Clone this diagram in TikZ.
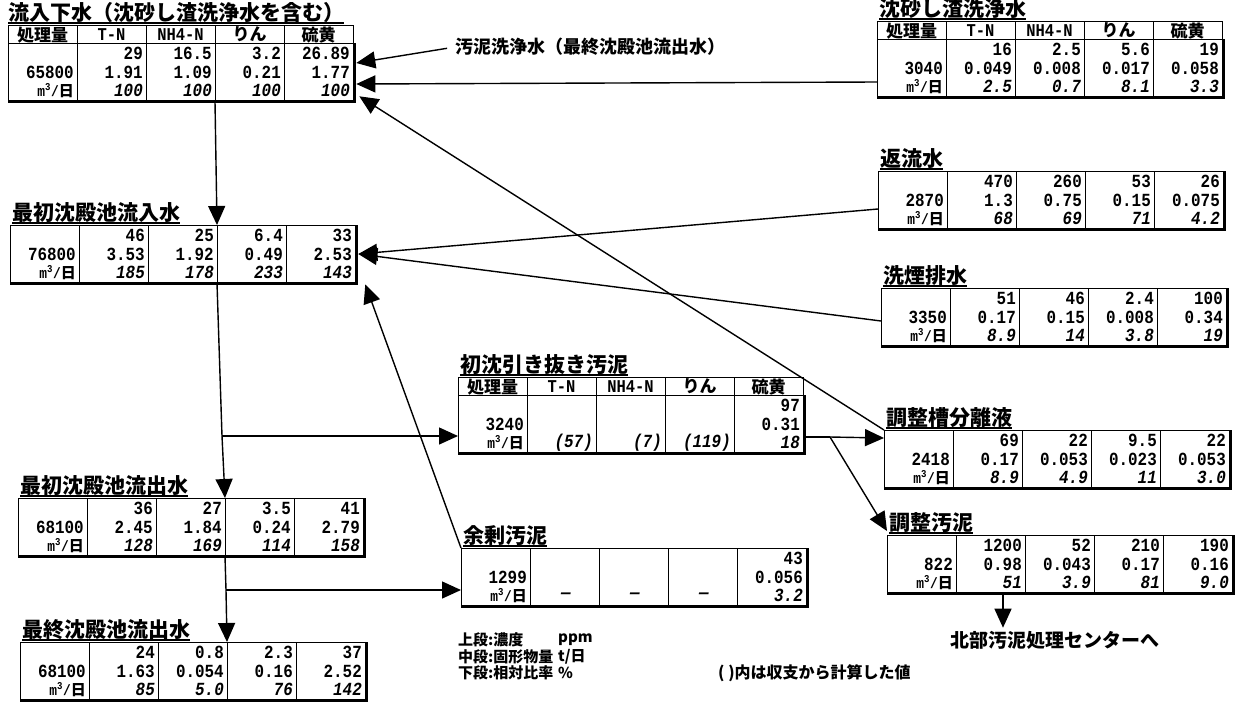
\documentclass[tikz,border=0pt]{standalone}
\usepackage{fontspec}
\newfontfamily\jpfont{Noto Sans CJK JP}
\newfontfamily\numfont{Liberation Mono}[FakeStretch=0.86]
\usetikzlibrary{arrows.meta,calc}

\newcommand{\perday}{{\numfont\bfseries\fontsize{15}{15}\selectfont m\textsuperscript{3}/{\jpfont 日}}}
\newcommand{\nodata}{\makebox[60pt][c]{—}}

\tikzset{
  val/.style={anchor=east, inner sep=0pt, font=\numfont\bfseries\fontsize{18.5}{18.5}\selectfont},
  pct/.style={val, font=\numfont\bfseries\itshape\fontsize{18.5}{18.5}\selectfont},
  hd/.style={inner sep=0pt, font=\jpfont\bfseries\fontsize{17}{17}\selectfont},
  hdnum/.style={inner sep=0pt, font=\numfont\bfseries\fontsize{18}{18}\selectfont},
  ttl/.style={anchor=south west, inner sep=0pt, font=\jpfont\bfseries\fontsize{21}{21}\selectfont},
  note/.style={anchor=west, inner sep=0pt, font=\jpfont\bfseries\fontsize{15}{15}\selectfont},
  frame/.style={draw, line width=1.3pt, minimum width=345pt, inner sep=0pt, anchor=north west},
  flow/.style={->, line width=1.4pt},
}

% title with underline
\newcommand{\tabletitle}[4]{%
  \node[ttl] (#1) at (#2,#3) {#4};
  \draw[line width=1.2pt] (#1.south west) -- (#1.south east);
}

% header row: name, left, top
\newcommand{\headrow}[3]{%
  \node[frame, minimum height=18pt] (#1) at (#2,#3) {};
  \foreach \k in {1,...,4}
    \draw[line width=1pt] ($(#1.north west)+(\k*69,0)$) -- ($(#1.south west)+(\k*69,0)$);
  \foreach \h/\s [count=\k] in {処理量/hd, T-N/hdnum, NH4-N/hdnum, りん/hd, 硫黄/hd}
    \node[\s] (#1-\k) at ($(#1.west)+(\k*69-34.5,0)$) {\h};
}

% data rows: name, left, top, upper, middle, lower
\newcommand{\datatable}[6]{%
  \node[frame, minimum height=57pt] (#1) at (#2,#3) {};
  \draw[line width=2.4pt] (#1.south west) -- (#1.south east) -- (#1.north east);
  \foreach \k in {1,...,4}
    \draw[line width=1pt] ($(#1.north west)+(\k*69,0)$) -- ($(#1.south west)+(\k*69,0)$);
  \foreach \v [count=\k] in {#4}
    {\ifx\v\empty\else\node[val] (#1-a\k) at ($(#1.north west)+(\k*69-3,10.5)$) {\v};\fi}
  \foreach \v [count=\k] in {#5}
    {\ifx\v\empty\else\node[val] (#1-b\k) at ($(#1.north west)+(\k*69-3,29)$) {\v};\fi}
  \node[val] (#1-c1) at ($(#1.north west)+(66,47.5)$) {\perday};
  \foreach \v [count=\k from 2] in {#6}
    \node[pct] (#1-c\k) at ($(#1.north west)+(\k*69-3,47.5)$) {\v};
}

\begin{document}
\begin{tikzpicture}[x=1pt, y=-1pt, >={Triangle[length=19pt,width=17pt]}]
\useasboundingbox (0,0) rectangle (1235,710);

% left column
\tabletitle{inflow-t}{8}{23}{流入下水（沈砂し渣洗浄水を含む）}
\headrow{inflow-h}{8}{25}
\datatable{inflow}{8}{43}{{},29,16.5,3.2,26.89}{65800,1.91,1.09,0.21,1.77}{100,100,100,100}

\tabletitle{pstin-t}{12}{223}{最初沈殿池流入水}
\datatable{pstin}{10}{225}{{},46,25,6.4,33}{76800,3.53,1.92,0.49,2.53}{185,178,233,143}

\tabletitle{pstout-t}{20}{496}{最初沈殿池流出水}
\datatable{pstout}{18}{498}{{},36,27,3.5,41}{68100,2.45,1.84,0.24,2.79}{128,169,114,158}

\tabletitle{fstout-t}{22}{640}{最終沈殿池流出水}
\datatable{fstout}{20}{642}{{},24,0.8,2.3,37}{68100,1.63,0.054,0.16,2.52}{85,5.0,76,142}

% middle column
\tabletitle{rawsl-t}{460}{375}{初沈引き抜き汚泥}
\headrow{rawsl-h}{458}{377}
\datatable{rawsl}{458}{395}{{},{},{},{},97}{3240,{},{},{},0.31}{(57),(7),(119),18}

\tabletitle{excess-t}{463}{546}{余剰汚泥}
\datatable{excess}{461}{548}{{},{},{},{},43}{1299,{},{},{},0.056}{\nodata,\nodata,\nodata,3.2}

% right column
\tabletitle{grit-t}{879}{19}{沈砂し渣洗浄水}
\headrow{grit-h}{877}{21}
\datatable{grit}{877}{39}{{},16,2.5,5.6,19}{3040,0.049,0.008,0.017,0.058}{2.5,0.7,8.1,3.3}

\tabletitle{ret-t}{880}{169}{返流水}
\datatable{ret}{878}{171}{{},470,260,53,26}{2870,1.3,0.75,0.15,0.075}{68,69,71,4.2}

\tabletitle{scrub-t}{883}{286}{洗煙排水}
\datatable{scrub}{881}{288}{{},51,46,2.4,100}{3350,0.17,0.15,0.008,0.34}{8.9,14,3.8,19}

\tabletitle{sep-t}{886}{428}{調整槽分離液}
\datatable{sep}{884}{430}{{},69,22,9.5,22}{2418,0.17,0.053,0.023,0.053}{8.9,4.9,11,3.0}

\tabletitle{adj-t}{889}{533}{調整汚泥}
\datatable{adj}{887}{535}{{},1200,52,210,190}{822,0.98,0.043,0.17,0.16}{51,3.9,81,9.0}

% texts
\node[note, font=\jpfont\bfseries\fontsize{18}{18}\selectfont] (washnote) at (455,47) {汚泥洗浄水（最終沈殿池流出水）};
\node[note, font=\jpfont\bfseries\fontsize{19}{19}\selectfont] (north) at (950,640) {北部汚泥処理センターへ};
\node[note] (lg1) at (458,640) {上段:濃度};
\node[note] (lg2) at (458,657) {中段:固形物量};
\node[note] (lg3) at (458,673) {下段:相対比率};
\node[note] (lu1) at (558,640) {ppm};
\node[note] (lu2) at (558,657) {t/日};
\node[note] (lu3) at (558,673) {\%};
\node[note, font=\jpfont\bfseries\fontsize{16}{16}\selectfont] (calcnote) at (718,673) {(~)内は収支から計算した値};

% main line
\coordinate (split1) at (222,436);
\coordinate (split2) at (226,590);
\coordinate (split3) at (830,437);
\draw[flow] ($(inflow.south west)+(207,0)$) -- ($(pstin.north west)+(207,0)$);
\draw[line width=1.4pt] ($(pstin.south west)+(207,0)$) -- (split1);
\draw[flow] (split1) -- ($(pstout.north west)+(207,0)$);
\draw[flow] (split1) -- (split1 -| rawsl.west);
\draw[line width=1.4pt] ($(pstout.south west)+(207,0)$) -- (split2);
\draw[flow] (split2) -- ($(fstout.north west)+(207,0)$);
\draw[flow] (split2) -- (split2 -| excess.west);

% returns
\draw[flow, shorten <=8pt] (washnote.west) -- ($(inflow.north east)+(2,20)$);
\draw[flow] ($(grit.north west)+(0,43)$) -- ($(inflow.north east)+(2,41)$);
\draw[flow] ($(ret.north west)+(0,38)$) -- ($(pstin.north east)+(2,29)$);
\draw[flow] ($(scrub.north west)+(0,33)$) -- ($(pstin.north east)+(2,29)$);
\draw[flow] (sep.north west) -- ($(inflow.south east)+(5,-5)$);
\draw[flow] (excess.north west) -- ($(pstin.south east)+(9,1)$);

% sludge
\draw[line width=1.4pt] ($(rawsl.north east)+(0,42)$) -- (split3);
\draw[flow] (split3) -- ($(sep.north west)+(0,8)$);
\draw[flow] (split3) -- ($(adj.north west)+(0,-4)$);
\draw[flow] ($(adj.south west)+(116,0)$) -- ($(north.north west)+(53,-3)$);
\end{tikzpicture}
\end{document}
